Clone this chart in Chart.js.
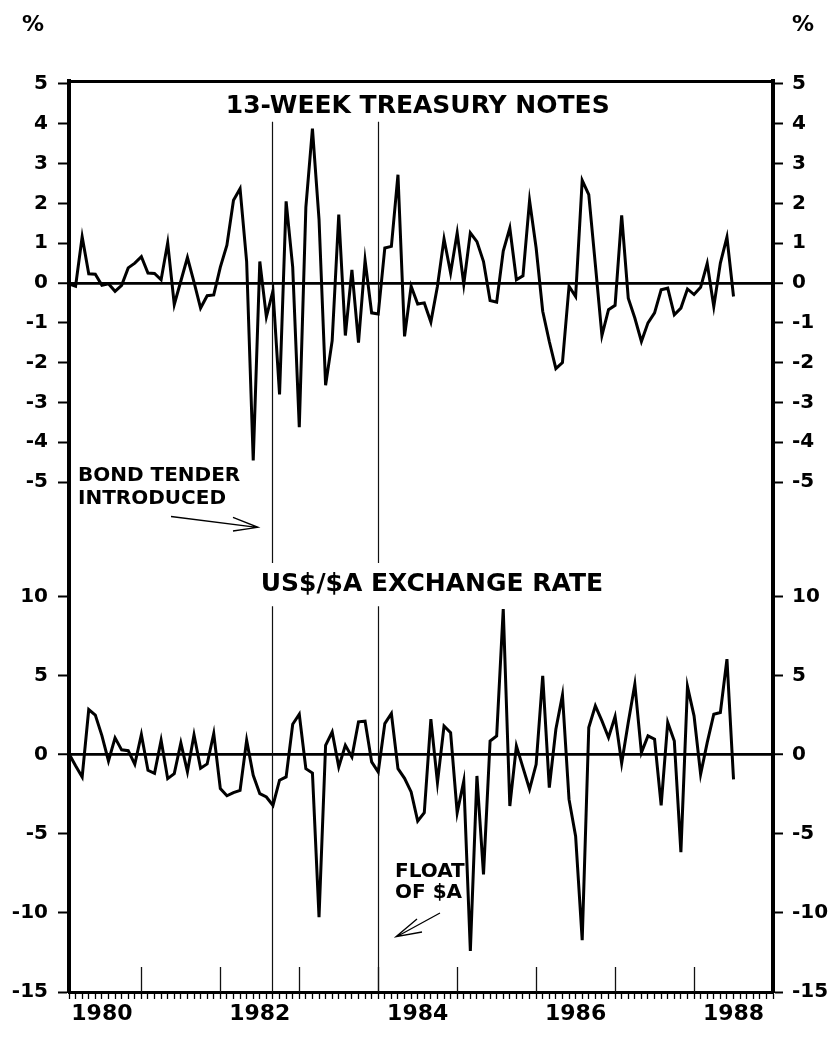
<!DOCTYPE html>
<html><head><meta charset="utf-8">
<script src="https://cdn.jsdelivr.net/npm/chart.js@4.4.0/dist/chart.umd.min.js"></script>
<style>html,body{margin:0;padding:0;background:#fff}#wrap{width:836px;height:1037px;position:relative}</style>
</head><body><div id="wrap"><canvas id="c" width="836" height="1037"></canvas></div>
<script>
// ---- data (monthly, Jan 1980 .. Jun 1988), % change ----
const startYear = 1980;
const monthNo = Array.from({length: 102}, (_, i) => i + 1); // month number counted from Jan 1980 = 1
const tbillChange = [
 -0.02, -0.08, 1.16, 0.23, 0.22, -0.06, -0.02, -0.21, -0.06, 0.38,
 0.50, 0.66, 0.25, 0.24, 0.08, 1.01, -0.54, 0.05, 0.64, 0.02,
 -0.63, -0.32, -0.30, 0.40, 0.95, 2.08, 2.37, 0.54, -4.46, 0.54,
 -0.85, -0.20, -2.80, 2.05, 0.40, -3.62, 1.90, 3.88, 1.60, -2.57,
 -1.45, 1.72, -1.32, 0.33, -1.50, 0.57, -0.75, -0.78, 0.88, 0.92,
 2.72, -1.34, -0.08, -0.53, -0.50, -0.98, -0.08, 1.11, 0.25, 1.26,
 -0.03, 1.26, 1.04, 0.54, -0.44, -0.48, 0.80, 1.38, 0.08, 0.18,
 2.07, 0.88, -0.71, -1.47, -2.15, -2.00, -0.08, -0.34, 2.58, 2.22,
 0.46, -1.32, -0.67, -0.56, 1.70, -0.38, -0.88, -1.47, -1.00, -0.75,
 -0.17, -0.13, -0.80, -0.63, -0.15, -0.29, -0.11, 0.49, -0.59, 0.50,
 1.15, -0.34
];
const fxChange = [
 0.05, -0.70, -1.41, 2.85, 2.50, 1.20, -0.40, 1.06, 0.30, 0.25,
 -0.61, 1.27, -0.99, -1.18, 0.91, -1.52, -1.20, 0.74, -1.08, 1.25,
 -0.86, -0.59, 1.33, -2.15, -2.60, -2.40, -2.26, 0.91, -1.31, -2.47,
 -2.68, -3.21, -1.62, -1.41, 1.92, 2.55, -0.89, -1.16, -10.27, 0.59,
 1.43, -0.78, 0.59, -0.15, 2.07, 2.11, -0.46, -1.10, 1.96, 2.60,
 -0.89, -1.50, -2.36, -4.20, -3.67, 2.24, -1.77, 1.81, 1.39, -3.67,
 -1.67, -12.40, -1.35, -7.57, 0.86, 1.18, 9.20, -3.25, 0.55, -0.82,
 -2.19, -0.61, 4.98, -2.09, 1.60, 3.76, -2.83, -5.15, -11.73, 1.71,
 3.08, 2.13, 1.08, 2.41, -0.55, 2.03, 4.45, 0.13, 1.18, 0.97,
 -3.21, 2.03, 0.86, -6.16, 4.30, 2.45, -1.24, 0.76, 2.55, 2.66,
 6.03, -1.56
];
const topTicks = [5, 4, 3, 2, 1, 0, -1, -2, -3, -4, -5];
const bottomTicks = [10, 5, 0, -5, -10, -15];
const yearLabels = [1980, 1982, 1984, 1986, 1988];
const yearTicks = [1981, 1982, 1983, 1984, 1985, 1986, 1987, 1988];
const monthTicks = Array.from({length: 108}, (_, i) => i + 1); // month tick marks along the axis
const eventDates = [1982.66, 1984.0]; // bond tender, float of $A
const panelTitles = ['13-WEEK TREASURY NOTES', 'US$/$A EXCHANGE RATE'];

// ---- chart ----
const toYear = m => startYear + m / 12;
const xMin = toYear(1), xMax = toYear(108);
const FONT = 'DejaVu Sans';
Chart.defaults.font.family = FONT;
Chart.defaults.font.weight = 'bold';
Chart.defaults.color = '#000';

const zeroGrid = {
  drawOnChartArea: true,
  color: c => (c.tick && c.tick.value === 0) ? '#000' : 'rgba(0,0,0,0)',
  lineWidth: c => (c.tick && c.tick.value === 0) ? 2.5 : 1,
  tickColor: '#000', tickWidth: 2
};
function yAxis(pos, ticks, min, max, weight, stackWeight) {
  const left = pos === 'left';
  return {
    type: 'linear', position: pos, stack: left ? 'L' : 'R', stackWeight, weight,
    min, max,
    afterBuildTicks: s => { s.ticks = ticks.map(v => ({value: v})); },
    afterFit: s => { s.width = left ? 69 : 63; },
    grid: Object.assign({}, zeroGrid, {tickLength: left ? 11 : 10}),
    border: {display: true, color: '#000', width: 4},
    ticks: {autoSkip: false, padding: left ? 10 : 9, font: {size: 20, weight: 'bold'}, color: '#000',
            callback: v => String(v)}
  };
}

const annot = {
  id: 'annot',
  beforeDatasetsDraw(chart) {
    const {ctx, chartArea: a, scales} = chart;
    const x = scales.x, yT = scales.yT, yB = scales.yB;
    ctx.save();
    ctx.strokeStyle = '#111'; ctx.lineWidth = 1.2;
    for (const d of eventDates) {
      const px = Math.round(x.getPixelForValue(d)) + 0.5;
      ctx.beginPath();
      ctx.moveTo(px, yT.getPixelForValue(4.05));
      ctx.lineTo(px, yB.getPixelForValue(12.1));
      ctx.moveTo(px, yB.getPixelForValue(9.37));
      ctx.lineTo(px, a.bottom);
      ctx.stroke();
    }
    // year ticks inside the plot
    ctx.lineWidth = 1.3;
    for (const y of yearTicks) {
      const px = Math.round(x.getPixelForValue(y)) + 0.5;
      ctx.beginPath(); ctx.moveTo(px, a.bottom); ctx.lineTo(px, a.bottom - 25); ctx.stroke();
    }
    ctx.restore();
  },
  afterDraw(chart) {
    const {ctx, scales} = chart;
    const x = scales.x, yT = scales.yT, yB = scales.yB;
    ctx.save();
    ctx.fillStyle = '#000';
    ctx.textBaseline = 'alphabetic';
    ctx.textAlign = 'center';
    ctx.font = `bold 25px "${FONT}"`;
    ctx.fillText(panelTitles[0], x.getPixelForValue(1984.5), yT.getPixelForValue(4.27));
    ctx.fillText(panelTitles[1], x.getPixelForValue(1984.68), yB.getPixelForValue(10.36));
    ctx.font = `bold 22px "${FONT}"`;
    ctx.fillText('%', 33, 31);
    ctx.fillText('%', 803, 31);
    ctx.textAlign = 'left';
    ctx.font = `bold 20px "${FONT}"`;
    ctx.fillText('BOND TENDER', 78, 481);
    ctx.fillText('INTRODUCED', 78, 504);
    ctx.fillText('FLOAT', 395, 877);
    ctx.fillText('OF $A', 395, 898);
    // arrows
    ctx.strokeStyle = '#000'; ctx.lineWidth = 1.3;
    ctx.beginPath();
    ctx.moveTo(171, 516.5); ctx.lineTo(257, 527.3);
    ctx.moveTo(233, 517.3); ctx.lineTo(258, 527.3); ctx.lineTo(233, 531);
    ctx.moveTo(440, 913); ctx.lineTo(397, 936.5);
    ctx.moveTo(417, 919); ctx.lineTo(396, 936.7); ctx.lineTo(422, 932);
    ctx.stroke();
    ctx.restore();
  }
};

new Chart(document.getElementById('c'), {
  type: 'line',
  data: {
    datasets: [
      {label: '13-week treasury notes', data: tbillChange.map((v, i) => ({x: toYear(monthNo[i]), y: v})),
       xAxisID: 'x', yAxisID: 'yT', borderColor: '#000', borderWidth: 3, pointRadius: 0, tension: 0, fill: false},
      {label: 'US$/$A exchange rate', data: fxChange.map((v, i) => ({x: toYear(monthNo[i]), y: v})),
       xAxisID: 'x', yAxisID: 'yB', borderColor: '#000', borderWidth: 3, pointRadius: 0, tension: 0, fill: false}
    ]
  },
  options: {
    responsive: false, animation: false, devicePixelRatio: 1,
    layout: {padding: {top: 81, left: 0, right: 0, bottom: 0}},
    plugins: {legend: {display: false}, tooltip: {enabled: false}, title: {display: false}},
    scales: {
      x: {
        type: 'linear', position: 'bottom', min: xMin, max: xMax,
        afterBuildTicks: s => { s.ticks = monthTicks.map(m => ({value: toYear(m)})); },
        afterFit: s => { s.height = 45; },
        grid: {drawOnChartArea: false, drawTicks: true, tickLength: 7, tickWidth: 1.3, tickColor: '#000', color: '#000'},
        border: {display: true, width: 3, color: '#000'},
        ticks: {autoSkip: false, maxRotation: 0, minRotation: 0, padding: 2, color: '#000',
                font: {size: 22, weight: 'bold'},
                callback: v => {
                  const yr = yearLabels.find(y => Math.abs(v - (y + 0.5)) < 1e-6);
                  return yr ? String(yr) : '';
                }}
      },
      xTop: {
        type: 'linear', position: 'top', min: xMin, max: xMax,
        afterBuildTicks: s => { s.ticks = []; },
        afterFit: s => { s.height = 0; },
        grid: {drawOnChartArea: false, drawTicks: false},
        border: {display: true, width: 3, color: '#000'},
        ticks: {display: false}
      },
      yT: yAxis('left', topTicks, -6.457, 5.075, 2, 459),
      yB: yAxis('left', bottomTicks, -15, 13.56, 1, 452),
      yTR: yAxis('right', topTicks, -6.457, 5.075, 1, 459),
      yBR: yAxis('right', bottomTicks, -15, 13.56, 2, 452)
    }
  },
  plugins: [annot]
});
</script></body></html>
